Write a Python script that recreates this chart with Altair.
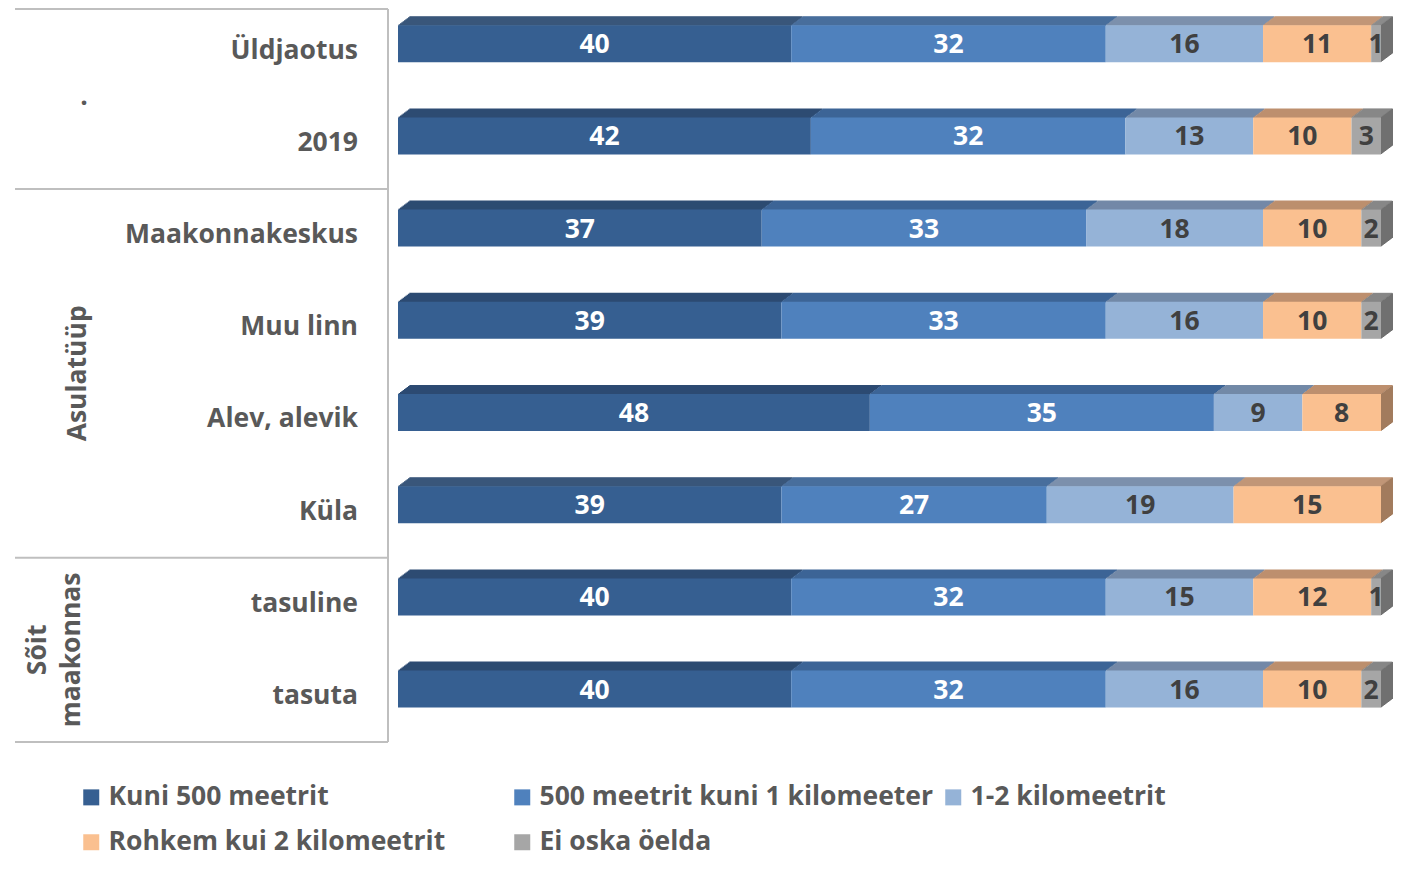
import altair as alt
import pandas as pd

# ---- data ----
rows = ["Üldjaotus", "2019", "Maakonnakeskus", "Muu linn", "Alev, alevik", "Küla", "tasuline", "tasuta"]
series = ["Kuni 500 meetrit", "500 meetrit kuni 1 kilomeeter", "1-2 kilomeetrit",
          "Rohkem kui 2 kilomeetrit", "Ei oska öelda"]
kuni_500 = [40, 42, 37, 39, 48, 39, 40, 40]
kuni_1km = [32, 32, 33, 33, 35, 27, 32, 32]
km_1_2 = [16, 13, 18, 16, 9, 19, 15, 16]
rohkem_2 = [11, 10, 10, 10, 8, 15, 12, 10]
ei_oska = [1, 3, 2, 2, 0, 0, 1, 2]
values = [kuni_500, kuni_1km, km_1_2, rohkem_2, ei_oska]

group_labels = [".", "Asulatüüp", "Sõit", "maakonnas"]

# ---- styles ----
front_colors = ["#365f91", "#4f81bd", "#95b3d7", "#fac090", "#a6a6a6"]
top_colors = ["#2d4b72", "#3c6496", "#7389a7", "#bd8f6e", "#878787"]
side_colors = ["#24406a", "#335a88", "#6a7f9c", "#a27c5e", "#707070"]
label_colors = ["#ffffff", "#ffffff", "#404040", "#404040", "#404040"]
FONT = "Open Sans"
FS = 26.5
TXT = "#595959"

W, H = 1388, 850
X0_PX, PX_PER_UNIT = 390, 9.83
Y0_PX, PX_PER_ROW = 35.7, 92.2
xdom = [-X0_PX / PX_PER_UNIT, (W - X0_PX) / PX_PER_UNIT]
ydom = [-Y0_PX / PX_PER_ROW, (H - Y0_PX) / PX_PER_ROW]
HALF = 18.5 / PX_PER_ROW
DX = 12 / PX_PER_UNIT
DY = 9 / PX_PER_ROW
AX_SHIFT = 0.075
N_TOP = 9
N_SIDE = 12
PXY = 1 / PX_PER_ROW
PXX = 1 / PX_PER_UNIT


def xsc():
    return alt.Scale(domain=xdom, range=[0, W], nice=False, zero=False)


def ysc():
    return alt.Scale(domain=ydom, range=[0, H], nice=False, zero=False)


front, depth, labels = [], [], []
for i, r in enumerate(rows):
    cum = 0
    last = None
    yt, yb = i - HALF, i + HALF
    for s, name in enumerate(series):
        v = values[s][i]
        x0, x1 = cum, cum + v
        cum = x1
        if v <= 0:
            continue
        last = s
        front.append(dict(row=r, cat=name, x0=x0, x1=x1, yt=yt, yb=yb))
        labels.append(dict(xm=(x0 + x1) / 2, y=i + 1.5 * PXY, t=str(v), c=label_colors[s]))
        # top face (parallelogram) as thin horizontal slices
        for j in range(N_TOP):
            sh = DX * (j + 0.5) / N_TOP
            depth.append(dict(
                xa=x0 + sh, xb=x1 + sh,
                ya=yt - DY * (j + 1) / N_TOP, yb=yt - DY * j / N_TOP + 0.6 * PXY,
                c=top_colors[s]))
    # side face at the right end as thin vertical slices
    for j in range(N_SIDE):
        sh = DY * (j + 0.5) / N_SIDE
        depth.append(dict(
            xa=cum + DX * j / N_SIDE - 0.3 * PXX, xb=cum + DX * (j + 1) / N_SIDE,
            ya=yt - sh, yb=yb - sh,
            c=side_colors[last]))

df_front = pd.DataFrame(front)
df_depth = pd.DataFrame(depth)
df_labels = pd.DataFrame(labels)
df_rows = pd.DataFrame(dict(lab=rows, y=[i + AX_SHIFT for i in range(len(rows))]))
top_line = max(-0.5 + AX_SHIFT, ydom[0] + 1.0 * PXY)
df_hlines = pd.DataFrame(dict(y=[top_line, 1.5 + AX_SHIFT, 5.5 + AX_SHIFT, 7.5 + AX_SHIFT]))
df_vline = pd.DataFrame(dict(y=[top_line], y2=[7.5 + AX_SHIFT]))

bars = alt.Chart(df_front).mark_rect(strokeWidth=0).encode(
    x=alt.X("x0:Q", scale=xsc(), axis=None),
    x2="x1:Q",
    y=alt.Y("yt:Q", scale=ysc(), axis=None),
    y2="yb:Q",
    color=alt.Color(
        "cat:N",
        scale=alt.Scale(domain=series, range=front_colors),
        legend=alt.Legend(
            title=None, orient="none", legendX=70, legendY=776, columns=3,
            direction="horizontal", gridAlign="all", symbolType="square",
            symbolSize=256, symbolStrokeWidth=0, labelFont=FONT, labelFontSize=FS,
            labelFontWeight="bold", labelColor=TXT, labelOffset=4, columnPadding=6,
            rowPadding=18, padding=0, labelLimit=600,
        ),
    ),
)

depth_faces = alt.Chart(df_depth).mark_rect(strokeWidth=0).encode(
    x=alt.X("xa:Q", scale=xsc(), axis=None),
    x2="xb:Q",
    y=alt.Y("ya:Q", scale=ysc(), axis=None),
    y2="yb:Q",
    fill=alt.Fill("c:N", scale=None),
)

bar_text = alt.Chart(df_labels).mark_text(
    font=FONT, fontSize=FS, fontWeight="bold", align="center", baseline="middle"
).encode(
    x=alt.X("xm:Q", scale=xsc(), axis=None),
    y=alt.Y("y:Q", scale=ysc(), axis=None),
    text="t:N",
    fill=alt.Fill("c:N", scale=None),
)

row_text = alt.Chart(df_rows).mark_text(
    font=FONT, fontSize=FS, fontWeight="bold", align="right", baseline="middle", color=TXT
).encode(
    x=alt.value(350),
    y=alt.Y("y:Q", scale=ysc(), axis=None),
    text="lab:N",
)

hlines = alt.Chart(df_hlines).mark_rule(color="#bfbfbf", strokeWidth=2).encode(
    x=alt.value(7), x2=alt.value(380),
    y=alt.Y("y:Q", scale=ysc(), axis=None),
)
vline = alt.Chart(df_vline).mark_rule(color="#bfbfbf", strokeWidth=2).encode(
    x=alt.value(380),
    y=alt.Y("y:Q", scale=ysc(), axis=None),
    y2="y2:Q",
)

df_groups = pd.DataFrame(dict(
    lab=group_labels,
    y=[0.5 + AX_SHIFT, 3.5 + AX_SHIFT, 6.5 + AX_SHIFT, 6.5 + AX_SHIFT],
    px=[76, 70, 30, 64],
    ang=[0, 270, 270, 270],
))
group_layers = []
for _, g in df_groups.iterrows():
    group_layers.append(
        alt.Chart(pd.DataFrame([g])).mark_text(
            font=FONT, fontSize=FS, fontWeight="bold", align="center", baseline="middle",
            color=TXT, angle=int(g["ang"]),
        ).encode(
            x=alt.value(float(g["px"])),
            y=alt.Y("y:Q", scale=ysc(), axis=None),
            text="lab:N",
        )
    )

chart = alt.layer(
    hlines, vline, depth_faces, bars, bar_text, row_text, *group_layers
).properties(
    width=W, height=H, padding=0, autosize="none"
).configure_view(stroke=None)

chart.save("out.html", embed_options={"renderer": "svg", "actions": False})
